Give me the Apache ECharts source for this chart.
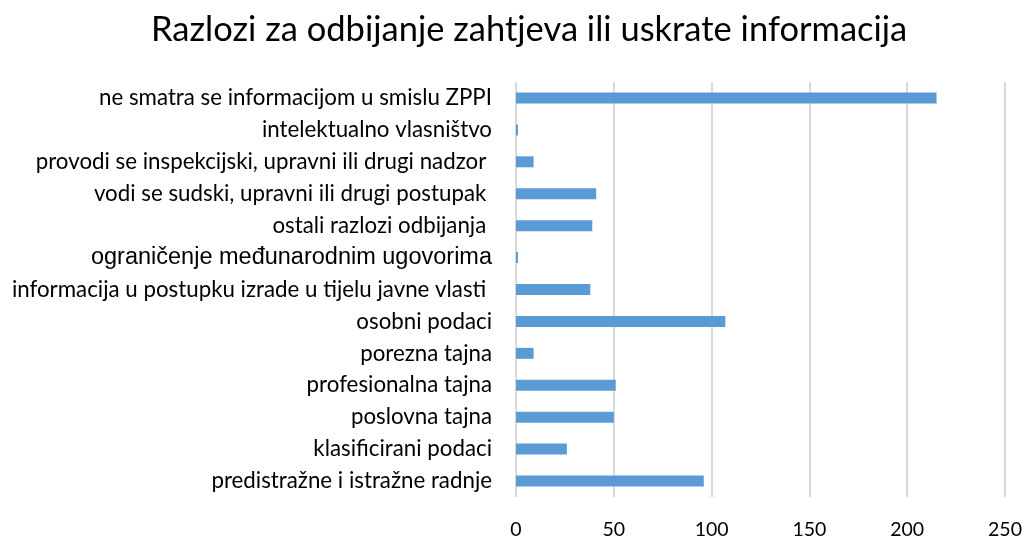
<!DOCTYPE html>
<html>
<head>
<meta charset="utf-8">
<script src="https://cdn.jsdelivr.net/npm/echarts@6/dist/echarts.min.js"></script>
<style>html,body{margin:0;padding:0;background:#fff;}#c{width:1025px;height:540px;}</style>
</head>
<body>
<div id="c"></div>
<script>
const titleText = 'Razlozi za odbijanje zahtjeva ili uskrate informacija';
const categories = [
  'ne smatra se informacijom u smislu ZPPI',
  'intelektualno vlasništvo',
  'provodi se inspekcijski, upravni ili drugi nadzor ',
  'vodi se sudski, upravni ili drugi postupak ',
  'ostali razlozi odbijanja ',
  'ograničenje međunarodnim ugovorima',
  'informacija u postupku izrade u tijelu javne vlasti ',
  'osobni podaci',
  'porezna tajna',
  'profesionalna tajna',
  'poslovna tajna',
  'klasificirani podaci',
  'predistražne i istražne radnje'
];
const values = [215, 1, 9, 41, 39, 1, 38, 107, 9, 51, 50, 26, 96];
const arialLabel = 'ograničenje međunarodnim ugovorima';

const chart = echarts.init(document.getElementById('c'));
chart.setOption({
  animation: false,
  backgroundColor: '#ffffff',
  title: {
    text: titleText,
    left: 146,
    top: 7,
    textStyle: { fontFamily: 'Lato', fontSize: 34.5, fontWeight: 'normal', color: '#000000' }
  },
  grid: { left: 516, right: 20, top: 82, bottom: 43, containLabel: false },
  xAxis: {
    type: 'value',
    min: 0, max: 250, interval: 50,
    axisLine: { show: false },
    axisTick: { show: false },
    splitLine: { show: true, lineStyle: { color: '#d9d9d9', width: 2 } },
    axisLabel: { fontFamily: 'Lato', fontSize: 19.5, color: '#000000', margin: 23 }
  },
  yAxis: {
    type: 'category',
    inverse: true,
    data: categories,
    axisLine: { show: false },
    axisTick: { show: false },
    axisLabel: {
      margin: 24,
      fontFamily: 'Lato', fontSize: 22.3, color: '#000000',
      formatter: function (v) {
        return v === arialLabel ? '{a|' + v + '}' : v;
      },
      rich: { a: { fontFamily: 'Liberation Sans', fontSize: 23.5, color: '#000000' } }
    }
  },
  series: [{
    type: 'bar',
    data: values,
    barWidth: 11,
    itemStyle: { color: '#5b9bd5' }
  }]
});
</script>
</body>
</html>
